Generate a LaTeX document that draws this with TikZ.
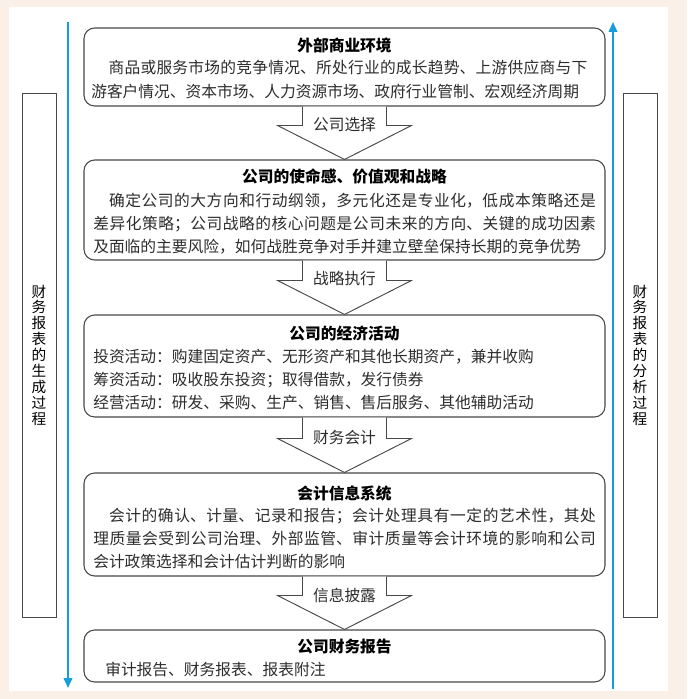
\documentclass[tikz,border=0pt]{standalone}
\usepackage{fontspec}
\setmainfont{Noto Sans CJK SC}
\usetikzlibrary{arrows.meta,calc}
\XeTeXlinebreaklocale "zh"
\XeTeXlinebreakskip=0pt plus 2pt

\definecolor{pagebg}{RGB}{250,240,231}
\definecolor{flowblue}{RGB}{22,158,220}
\definecolor{boxline}{RGB}{72,72,72}
\definecolor{bodytext}{RGB}{45,45,45}

\tikzset{
	stagebox/.style={draw=boxline, line width=0.8pt, rounded corners=8pt, fill=white, inner sep=0pt, minimum width=390.75pt},
	sidebox/.style={draw=boxline, line width=0.7pt, fill=white, inner sep=0pt, minimum width=25.5pt, minimum height=393pt, align=center, text=black, font=\fontsize{11pt}{11.9pt}\selectfont},
	stagetitle/.style={anchor=base, inner sep=0pt, text=black, font=\fontsize{11.8pt}{17.6pt}\selectfont\bfseries},
	stagetext/.style={anchor=base west, inner sep=0pt, text width=377pt, align=justify, text=bodytext, font=\fontsize{11.8pt}{17.6pt}\selectfont},
	steparrow/.style={draw=boxline, line width=0.7pt, fill=white, line join=miter},
	steplabel/.style={anchor=base, inner sep=0pt, text=bodytext, font=\fontsize{11.8pt}{14pt}\selectfont},
	flowline/.style={draw=flowblue, line width=1.3pt, -{Triangle[length=7.5pt,width=6.5pt]}}
}

\begin{document}
\begin{tikzpicture}[x=0.75pt,y=0.75pt,yscale=-1,xscale=1]
	\useasboundingbox (0,0) rectangle (687,699);
	
	%Shape: Rectangle [background]
	\fill [pagebg] (0,0) rectangle (687,699);
	\fill [white] (9,7) rectangle (668,691);
	
	%Shape: Side boxes
	\node [sidebox] (lside) at (39,355) {财\\务\\报\\表\\的\\生\\成\\过\\程};
	\node [sidebox] (rside) at (640,355) {财\\务\\报\\表\\的\\分\\析\\过\\程};
	
	%Straight Lines [flow lines]
	\coordinate (ltop) at (68,22);
	\coordinate (lend) at (68,688);
	\coordinate (rbot) at (613,689);
	\coordinate (rend) at (613,22);
	\draw [flowline] (ltop) -- (lend);
	\draw [flowline] (rbot) -- (rend);
	
	%Shape: Rounded Rect [stages]
	\node [stagebox, minimum height=58.5pt] (b1) at (344.5,67) {};
	\node [stagebox, minimum height=75pt] (b2) at (344.5,210) {};
	\node [stagebox, minimum height=76.5pt] (b3) at (344.5,366) {};
	\node [stagebox, minimum height=77.25pt] (b4) at (344.5,524.5) {};
	\node [stagebox, minimum height=39pt] (b5) at (344.5,656) {};
	
	%Block arrows
	\draw [steparrow] ($(b1.south)+(-42,0)$) -- ($(b2.north)+(-42,-34)$) -- ($(b2.north)+(-67,-34)$) -- (b2.north) -- ($(b2.north)+(67,-34)$) -- ($(b2.north)+(42,-34)$) -- ($(b1.south)+(42,0)$);
	\draw [steparrow] ($(b2.south)+(-42,0)$) -- ($(b3.north)+(-42,-34)$) -- ($(b3.north)+(-67,-34)$) -- (b3.north) -- ($(b3.north)+(67,-34)$) -- ($(b3.north)+(42,-34)$) -- ($(b2.south)+(42,0)$);
	\draw [steparrow] ($(b3.south)+(-42,0)$) -- ($(b4.north)+(-42,-34)$) -- ($(b4.north)+(-67,-34)$) -- (b4.north) -- ($(b4.north)+(67,-34)$) -- ($(b4.north)+(42,-34)$) -- ($(b3.south)+(42,0)$);
	\draw [steparrow] ($(b4.south)+(-42,0)$) -- ($(b5.north)+(-42,-34)$) -- ($(b5.north)+(-67,-34)$) -- (b5.north) -- ($(b5.north)+(67,-34)$) -- ($(b5.north)+(42,-34)$) -- ($(b4.south)+(42,0)$);
	
	% Text Node
	\node [steplabel] (l1) at ($(b2.north)+(0,-29)$) {公司选择};
	\node [steplabel] (l2) at ($(b3.north)+(0,-30)$) {战略执行};
	\node [steplabel] (l3) at ($(b4.north)+(0,-29)$) {财务会计};
	\node [steplabel] (l4) at ($(b5.north)+(0,-28)$) {信息披露};
	
	% Text Node
	\node [stagetitle] (t1) at (344.5,51) {外部商业环境};
	\node [stagetext, text width=372pt] (d1) at (91,74) {\hspace*{1.1em}商品或服务市场的竞争情况、所处行业的成长趋势、上游供应商与下\linebreak 游客户情况、资本市场、人力资源市场、政府行业管制、宏观经济周期};
	% Text Node
	\node [stagetitle] (t2) at (344.5,182) {公司的使命感、价值观和战略};
	\node [stagetext] (d2) at (93,206) {\hspace*{1em}确定公司的大方向和行动纲领，多元化还是专业化，低成本策略还是\linebreak 差异化策略；公司战略的核心问题是公司未来的方向、关键的成功因素\linebreak 及面临的主要风险，如何战胜竞争对手并建立壁垒保持长期的竞争优势};
	% Text Node
	\node [stagetitle] (t3) at (344.5,339) {公司的经济活动};
	\node [stagetext] (d3) at (93,362) {投资活动：购建固定资产、无形资产和其他长期资产，兼并收购\\筹资活动：吸收股东投资；取得借款，发行债券\\经营活动：研发、采购、生产、销售、售后服务、其他辅助活动};
	% Text Node
	\node [stagetitle] (t4) at (344.5,499) {会计信息系统};
	\node [stagetext] (d4) at (93,521) {\hspace*{1em}会计的确认、计量、记录和报告；会计处理具有一定的艺术性，其处\linebreak 理质量会受到公司治理、外部监管、审计质量等会计环境的影响和公司\linebreak 会计政策选择和会计估计判断的影响};
	% Text Node
	\node [stagetitle] (t5) at (344.5,652) {公司财务报告};
	\node [stagetext] (d5) at (105,675) {审计报告、财务报表、报表附注};
	
\end{tikzpicture}
\end{document}
